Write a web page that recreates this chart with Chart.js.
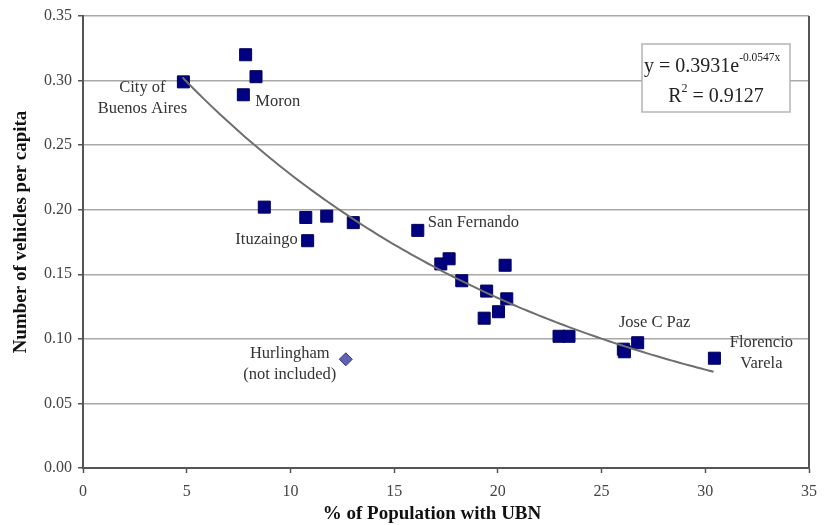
<!DOCTYPE html>
<html>
<head>
<meta charset="utf-8">
<script src="https://cdn.jsdelivr.net/npm/chart.js@4.4.1/dist/chart.umd.min.js"></script>
<style>
  body { margin: 0; background: #fff; }
  #wrap { width: 830px; height: 525px; }
</style>
</head>
<body>
<div id="wrap"><canvas id="ubnChart" width="830" height="525"></canvas></div>
<script>
// % of population with UBN vs vehicles per capita, by district
const ubnPct = [4.84, 7.84, 8.34, 7.73, 8.74, 10.74, 11.75, 13.03, 10.83, 16.14,
    17.25, 17.65, 20.35, 18.26, 19.46, 20.43, 20.03, 19.34, 22.95, 23.43,
    26.05, 26.1, 26.74, 30.44];
const vehPerCapita = [0.299, 0.320, 0.303, 0.289, 0.202, 0.194, 0.195, 0.190, 0.176, 0.184,
    0.158, 0.162, 0.157, 0.145, 0.137, 0.131, 0.121, 0.116, 0.102, 0.102,
    0.092, 0.090, 0.097, 0.085];
const districtNames = ['City of\nBuenos Aires', null, null, 'Moron', null, null, null, null, 'Ituzaingo', 'San Fernando',
    null, null, null, null, null, null, null, null, null, null,
    null, null, 'Jose C Paz', 'Florencio\nVarela'];

// excluded from the fit
const excludedName = 'Hurlingham\n(not included)';
const excludedUbn = [12.67];
const excludedVeh = [0.0842];

// fitted exponential trend y = a * e^(b x)
const trendCoef = 0.3931;
const trendExp = -0.0547;
const trendRange = [4.8, 30.4];
const rSquared = 0.9127;

const xTicks = [0, 5, 10, 15, 20, 25, 30, 35];
const yTicks = [0, 0.05, 0.10, 0.15, 0.20, 0.25, 0.30, 0.35];

const serif = "'Liberation Serif', 'Times New Roman', serif";

const mainPoints = ubnPct.map((x, i) => ({x: x, y: vehPerCapita[i]}));
const excludedPoints = excludedUbn.map((x, i) => ({x: x, y: excludedVeh[i]}));
const trendPoints = [];
for (let x = trendRange[0]; x <= trendRange[1] + 1e-9; x += 0.2) {
    trendPoints.push({x: x, y: trendCoef * Math.exp(trendExp * x)});
}

// where each name sits relative to its marker (pixels)
const labelPlace = {
    'City of\nBuenos Aires': {dx: -41, dy: 6, align: 'center'},
    'Moron': {dx: 12, dy: 7, align: 'left'},
    'Ituzaingo': {dx: -10, dy: -1, align: 'right'},
    'San Fernando': {dx: 10, dy: -8, align: 'left'},
    'Jose C Paz': {dx: 17, dy: -20, align: 'center'},
    'Florencio\nVarela': {dx: 47, dy: -16, align: 'center'},
    'Hurlingham\n(not included)': {dx: -56, dy: -6, align: 'center'}
};

function drawName(ctx, text, px, py) {
    const p = labelPlace[text];
    ctx.textAlign = p.align;
    text.split('\n').forEach((line, k) => {
        ctx.fillText(line, px + p.dx, py + p.dy + k * 21);
    });
}

const extras = {
    id: 'extras',
    afterDraw(chart) {
        const ctx = chart.ctx;
        const xs = chart.scales.x, ys = chart.scales.y;
        const area = chart.chartArea;
        ctx.save();

        // right frame line
        ctx.strokeStyle = '#555';
        ctx.lineWidth = 2;
        ctx.beginPath();
        ctx.moveTo(area.right, area.top);
        ctx.lineTo(area.right, area.bottom + 1);
        ctx.stroke();

        // point names
        ctx.fillStyle = '#333';
        ctx.font = '16.5px ' + serif;
        ctx.textBaseline = 'middle';
        ubnPct.forEach((x, i) => {
            if (!districtNames[i]) return;
            drawName(ctx, districtNames[i], xs.getPixelForValue(x), ys.getPixelForValue(vehPerCapita[i]));
        });
        drawName(ctx, excludedName, xs.getPixelForValue(excludedUbn[0]), ys.getPixelForValue(excludedVeh[0]));

        // equation box
        ctx.fillStyle = '#fff';
        ctx.fillRect(642, 44, 148, 68);
        ctx.strokeStyle = '#b4b4b4';
        ctx.lineWidth = 1.5;
        ctx.strokeRect(642, 44, 148, 68);
        ctx.fillStyle = '#222';
        ctx.textAlign = 'left';
        ctx.textBaseline = 'alphabetic';
        ctx.font = '20px ' + serif;
        const eq = 'y = ' + trendCoef + 'e';
        ctx.fillText(eq, 644, 72);
        const w1 = ctx.measureText(eq).width;
        ctx.font = '11.5px ' + serif;
        ctx.fillText(trendExp + 'x', 644 + w1, 61);
        ctx.font = '20px ' + serif;
        const rTxt = ' = ' + rSquared;
        const rW = ctx.measureText('R').width;
        ctx.font = '12px ' + serif;
        const sW = ctx.measureText('2').width;
        ctx.font = '20px ' + serif;
        const total = rW + sW + ctx.measureText(rTxt).width;
        let rx = 716 - total / 2;
        ctx.fillText('R', rx, 102);
        ctx.font = '12px ' + serif;
        ctx.fillText('2', rx + rW, 92);
        ctx.font = '20px ' + serif;
        ctx.fillText(rTxt, rx + rW + sW, 102);

        // axis titles
        ctx.fillStyle = '#111';
        ctx.font = 'bold 19px ' + serif;
        ctx.textAlign = 'center';
        ctx.textBaseline = 'middle';
        ctx.fillText('% of Population with UBN', 432, 514);
        ctx.translate(21, 232);
        ctx.rotate(-Math.PI / 2);
        ctx.fillText('Number of vehicles per capita', 0, 0);
        ctx.restore();
    }
};

const chart = new Chart(document.getElementById('ubnChart'), {
    type: 'scatter',
    data: {
        datasets: [
            {
                label: 'trend',
                data: trendPoints,
                showLine: true,
                borderColor: '#6e6e6e',
                borderWidth: 2,
                pointRadius: 0,
                tension: 0
            },
            {
                label: 'districts',
                data: mainPoints,
                pointStyle: 'rect',
                pointRadius: 8.5,
                backgroundColor: '#000080',
                borderColor: '#00005c',
                borderWidth: 1
            },
            {
                label: 'excluded',
                data: excludedPoints,
                pointStyle: 'rectRot',
                pointRadius: 6.5,
                backgroundColor: '#6262b2',
                borderColor: '#34347e',
                borderWidth: 1
            }
        ]
    },
    options: {
        responsive: false,
        animation: false,
        events: [],
        layout: {padding: {left: 0, right: 21, top: 16, bottom: 0}},
        plugins: {legend: {display: false}, tooltip: {enabled: false}},
        scales: {
            x: {
                type: 'linear',
                min: 0, max: 35,
                afterFit: s => { s.height = 57; },
                afterBuildTicks: s => { s.ticks = xTicks.map(v => ({value: v})); },
                grid: {drawOnChartArea: false, tickLength: 5, tickColor: '#555', tickWidth: 1.5},
                border: {color: '#555', width: 2},
                ticks: {color: '#444', padding: 9, font: {family: serif, size: 16}, maxRotation: 0}
            },
            y: {
                type: 'linear',
                min: 0, max: 0.35,
                afterFit: s => { s.width = 83; },
                afterBuildTicks: s => { s.ticks = yTicks.map(v => ({value: v})); },
                grid: {color: '#a8a8a8', lineWidth: 1.5, tickLength: 5, tickColor: '#555', tickWidth: 1.5},
                border: {color: '#555', width: 2},
                ticks: {
                    color: '#444', padding: 6, font: {family: serif, size: 16},
                    callback: v => v.toFixed(2)
                }
            }
        }
    },
    plugins: [extras]
});
</script>
</body>
</html>
